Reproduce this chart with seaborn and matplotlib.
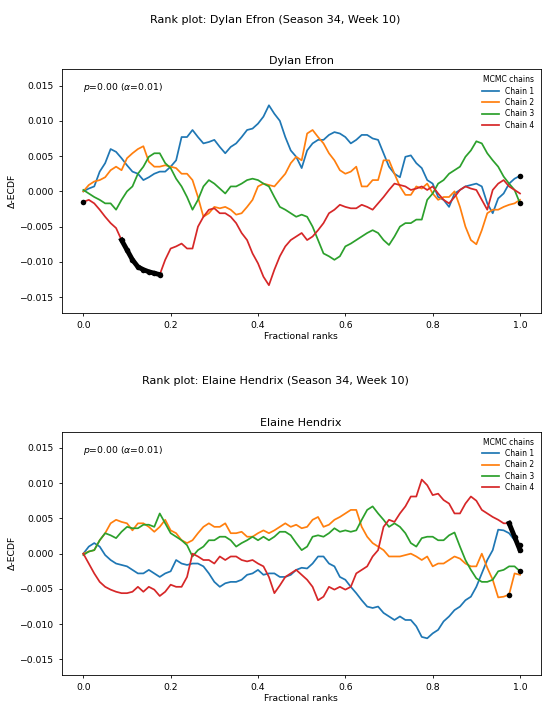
import numpy as np
import pandas as pd
import seaborn as sns
import matplotlib.pyplot as plt

ranks = np.linspace(0, 1, 81)
chains = ['Chain 1', 'Chain 2', 'Chain 3', 'Chain 4']

# values read at 0, 0.025, ..., 1.0 and at the midpoints 0.0125, 0.0375, ...
# Dylan Efron
dylan_c1 = [0, .0007, .004, .0056, .0037, .0025, .002, .0028, .0035, .0077, .0087,
            .0068, .0073, .0054, .0068, .0087, .0096, .0122, .010, .0058, .0033,
            .0068, .0073, .0084, .0077, .0073, .008, .0073, .0035, .002, .0051,
            .0033, .0011, -.0012, -.0003, .0007, .0011, -.0017, -.001, .0011, .0022]
dylan_c1_mid = [.0004, .0028, .006, .0047, .0028, .0016, .0025, .0028, .0044, .0077,
                .0077, .007, .0063, .0063, .0077, .0089, .0106, .011, .0077, .0049,
                .0058, .0073, .008, .0082, .0068, .008, .0075, .0054, .0025, .0049,
                .004, .0016, -.0008, -.0022, .0002, .0009, .0007, -.0031, -.0003, .0018]
dylan_c2 = [0, .0014, .002, .0035, .0047, .006, .0042, .0035, .0035, .0025, .0016,
            -.0036, -.0022, -.0022, -.0033, -.0022, .0007, .0009, .0016, .004, .0044,
            .0087, .0068, .0044, .0025, .0035, .0007, .0016, .0044, .0007, -.0005,
            .0004, -.0003, -.0008, 0, -.005, -.0075, -.0031, -.0026, -.0019, -.0012]
dylan_c2_mid = [.0009, .0016, .003, .003, .0054, .0064, .0035, .0037, .0033, .0025,
                -.0008, -.0031, -.0024, -.0026, -.0031, -.0012, .0011, .0007, .0025, .0049,
                .0082, .0077, .0054, .003, .0028, .0007, .0016, .0044, .0025, -.0005,
                .0007, .0011, -.0012, -.0008, -.0022, -.0069, -.0055, -.0026, -.0022, -.0017]
dylan_c3 = [.0002, -.0008, -.0017, -.0026, 0, .0025, .0049, .0054, .0033, .0007, -.0026,
            .0007, .0011, -.0003, .0007, .0016, .0016, .0007, -.0022, -.0031, -.0033,
            -.005, -.0088, -.0097, -.0078, -.0069, -.0059, -.0059, -.0076, -.005, -.0045,
            -.004, -.0003, .0016, .003, .0049, .0071, .0054, .0035, .0011, -.0017]
dylan_c3_mid = [-.0003, -.0012, -.0017, -.0012, .0007, .0035, .0054, .004, .0018, -.0008,
                -.0012, .0016, .0004, .0007, .0011, .0018, .0011, -.0008, -.0026, -.0036,
                -.0036, -.0069, -.0092, -.0092, -.0074, -.0064, -.0055, -.0069, -.0064, -.0045,
                -.004, -.0012, .0011, .0025, .0035, .0058, .0068, .0044, .0021, .0002]
dylan_c4 = [-.0015, -.0017, -.0036, -.0052, -.0083, -.0107, -.0114, -.0118, -.0081, -.0074, -.0081,
            -.0036, -.0024, -.0031, -.0045, -.0069, -.0102, -.0133, -.0092, -.0069, -.0059,
            -.0064, -.0045, -.0026, -.0022, -.0024, -.0022, -.0017, .0002, .0009, .0002,
            .0007, .0007, -.0012, -.0008, .0007, .0002, -.0026, .0011, .0007, -.0003]
dylan_c4_mid = [-.0012, -.0026, -.0045, -.0069, -.0097, -.0111, -.0116, -.0097, -.0078, -.0081,
                -.005, -.0026, -.0031, -.0036, -.0059, -.0088, -.0121, -.0111, -.0078, -.0064,
                -.0069, -.0055, -.0031, -.0019, -.0024, -.0019, -.0026, -.0008, .0011, .0007,
                .0004, .0002, -.0003, -.0017, .0002, .0004, -.0012, .0002, .0016, .0002]

# Elaine Hendrix
elaine_c1 = [0, .0015, -.0002, -.0014, -.0018, -.0028, -.0023, -.0033, -.0025, -.0014, -.0014,
             -.0018, -.004, -.0042, -.004, -.003, -.0023, -.0028, -.0033, -.003, -.002,
             -.0014, -.0004, -.0018, -.0037, -.0056, -.0075, -.0075, -.0089, -.0089, -.0094,
             -.0118, -.0113, -.0096, -.008, -.0066, -.0047, -.0009, .0034, .0029, .0012]
elaine_c1_mid = [.001, .001, -.0009, -.0016, -.0023, -.0028, -.0028, -.0028, -.0009, -.0016,
                 -.0014, -.0028, -.0047, -.004, -.0037, -.0028, -.003, -.0028, -.0033, -.0023,
                 -.0021, -.0004, -.0014, -.0033, -.0047, -.0066, -.0077, -.0084, -.0094, -.0094,
                 -.0103, -.012, -.0108, -.0089, -.0075, -.0061, -.0028, .0005, .0033, .0019]
elaine_c2 = [0, .0005, .0029, .0048, .0043, .0043, .0038, .0038, .0033, .0019, .0019,
             .0038, .0038, .0043, .0029, .0024, .0029, .0029, .0038, .0038, .0036,
             .0048, .0038, .0048, .0057, .0062, .0024, .001, -.0004, -.0004, 0,
             -.0009, -.0018, -.0014, -.0004, -.0014, -.0018, -.002, -.0062, -.0058, -.003]
elaine_c2_mid = [.0003, .0019, .0043, .0045, .0033, .0043, .0031, .0048, .0029, .0015,
                 .0029, .0043, .0038, .0029, .0031, .0024, .0033, .0033, .0043, .0041,
                 .0038, .0052, .0041, .0052, .0062, .0038, .0015, .0005, -.0004, -.0002,
                 -.0004, -.0004, -.0014, -.0009, -.0007, -.0018, 0, -.0037, -.0061, -.0028]
elaine_c3 = [-.0002, .0005, .0029, .0022, .0038, .0036, .0041, .0057, .0029, .0019, -.0004,
             .001, .0019, .0024, .001, .0019, .0019, .0019, .0031, .0026, .0005,
             .0024, .0024, .0036, .0033, .0033, .0062, .0057, .0038, .0038, .0015,
             .0022, .0024, .0019, .003, -.0009, -.0035, -.004, -.0025, -.0018, -.0025]
elaine_c3_mid = [.0003, .0019, .0026, .0031, .0036, .0041, .0038, .0043, .0024, .0012,
                 .0005, .0019, .0024, .0019, .0015, .0024, .0024, .0024, .0031, .0015,
                 .001, .0026, .0029, .0031, .0031, .0048, .0067, .0048, .0043, .0029,
                 .001, .0024, .0019, .0026, .001, -.0023, -.004, -.0037, -.0023, -.0018]
elaine_c4 = [0, -.0028, -.0047, -.0054, -.0056, -.0047, -.0047, -.006, -.0044, -.0047, 0,
             -.0009, -.0014, -.0009, -.0004, -.0011, -.0014, -.0033, -.0045, -.0028, -.003,
             -.0047, -.0061, -.0051, -.0051, -.0028, -.0018, .0005, .0048, .0057, .0081,
             .0105, .0083, .0076, .0057, .0071, .0075, .0057, .0048, .0043, .0005]
elaine_c4_mid = [-.0014, -.004, -.0051, -.0056, -.0054, -.0054, -.0051, -.0054, -.0047, -.0033,
                 -.0004, -.0009, -.0004, -.0004, -.0009, -.0009, -.0018, -.0056, -.0033, -.0023,
                 -.0037, -.0066, -.0047, -.0047, -.0047, -.0023, -.0004, .0038, .0045, .0067,
                 .0081, .0097, .0085, .0071, .0057, .0081, .0062, .0052, .0043, .0024]

# points outside the simultaneous envelope (indices on the 81-point rank grid)
dylan_flags = {'Chain 1': [80], 'Chain 3': [80],
               'Chain 4': [0, 7, 8, 9, 10, 11, 12, 13, 14]}
elaine_flags = {'Chain 1': [80], 'Chain 2': [78], 'Chain 3': [80],
                'Chain 4': [78, 79, 80]}


def weave(grid, mid):
    out = []
    for i, g in enumerate(grid):
        out.append(g)
        if i < len(mid):
            out.append(mid[i])
    return out


players = [
    ('Dylan Efron',
     [weave(dylan_c1, dylan_c1_mid), weave(dylan_c2, dylan_c2_mid),
      weave(dylan_c3, dylan_c3_mid), weave(dylan_c4, dylan_c4_mid)], dylan_flags),
    ('Elaine Hendrix',
     [weave(elaine_c1, elaine_c1_mid), weave(elaine_c2, elaine_c2_mid),
      weave(elaine_c3, elaine_c3_mid), weave(elaine_c4, elaine_c4_mid)], elaine_flags),
]

palette = sns.color_palette('tab10', 4)

fig = plt.figure(figsize=(5.5, 7.08), dpi=100)
axes_pos = [[0.1122, 0.5583, 0.871, 0.3438], [0.1122, 0.0466, 0.871, 0.3438]]
suptitle_y = [0.972, 0.462]

for k, (name, series, flags) in enumerate(players):
    ax = fig.add_axes(axes_pos[k])
    rows = []
    for ch, vals in zip(chains, series):
        for r, v in zip(ranks, vals):
            rows.append({'rank': r, 'ecdf': v, 'chain': ch})
    df = pd.DataFrame(rows)

    sns.lineplot(data=df, x='rank', y='ecdf', hue='chain', palette=palette,
                 lw=1.25, estimator=None, errorbar=None, ax=ax)

    # highlight flagged points in black
    for ch, idx in flags.items():
        chain_df = df[df['chain'] == ch].reset_index(drop=True)
        runs = np.split(np.array(idx), np.where(np.diff(idx) != 1)[0] + 1)
        for run in runs:
            if len(run) > 1:
                sns.lineplot(data=chain_df.iloc[run], x='rank', y='ecdf',
                             color='black', lw=3.5, estimator=None, ax=ax,
                             legend=False)
        sns.scatterplot(data=chain_df.iloc[idx], x='rank', y='ecdf',
                        color='black', s=16, linewidth=0, ax=ax,
                        legend=False, zorder=5)

    ax.set_xlim(-0.0495, 1.0475)
    ax.set_ylim(-0.0172, 0.0173)
    ax.set_yticks([-0.015, -0.01, -0.005, 0, 0.005, 0.01, 0.015])
    ax.tick_params(labelsize=6.7, length=2.5, width=0.6)
    for sp in ax.spines.values():
        sp.set_linewidth(0.6)
    ax.set_xlabel('Fractional ranks', fontsize=6.7, labelpad=1.5)
    ax.set_ylabel('Δ-ECDF', fontsize=6.7, labelpad=2)
    ax.set_title(name, fontsize=8, pad=4)
    ax.text(0.044, 0.924, r'$p$=0.00 ($\alpha$=0.01)', transform=ax.transAxes,
            fontsize=6.7, va='center')
    leg = ax.legend(title='MCMC chains', loc='upper right', frameon=False,
                    fontsize=5.5, title_fontsize=5.5, handlelength=2.2,
                    labelspacing=0.3, borderaxespad=0.4)
    for line in leg.get_lines():
        line.set_linewidth(1.25)
    fig.text(0.5, suptitle_y[k], f'Rank plot: {name} (Season 34, Week 10)',
             ha='center', va='center', fontsize=8)

plt.savefig('out.png', dpi=100)
